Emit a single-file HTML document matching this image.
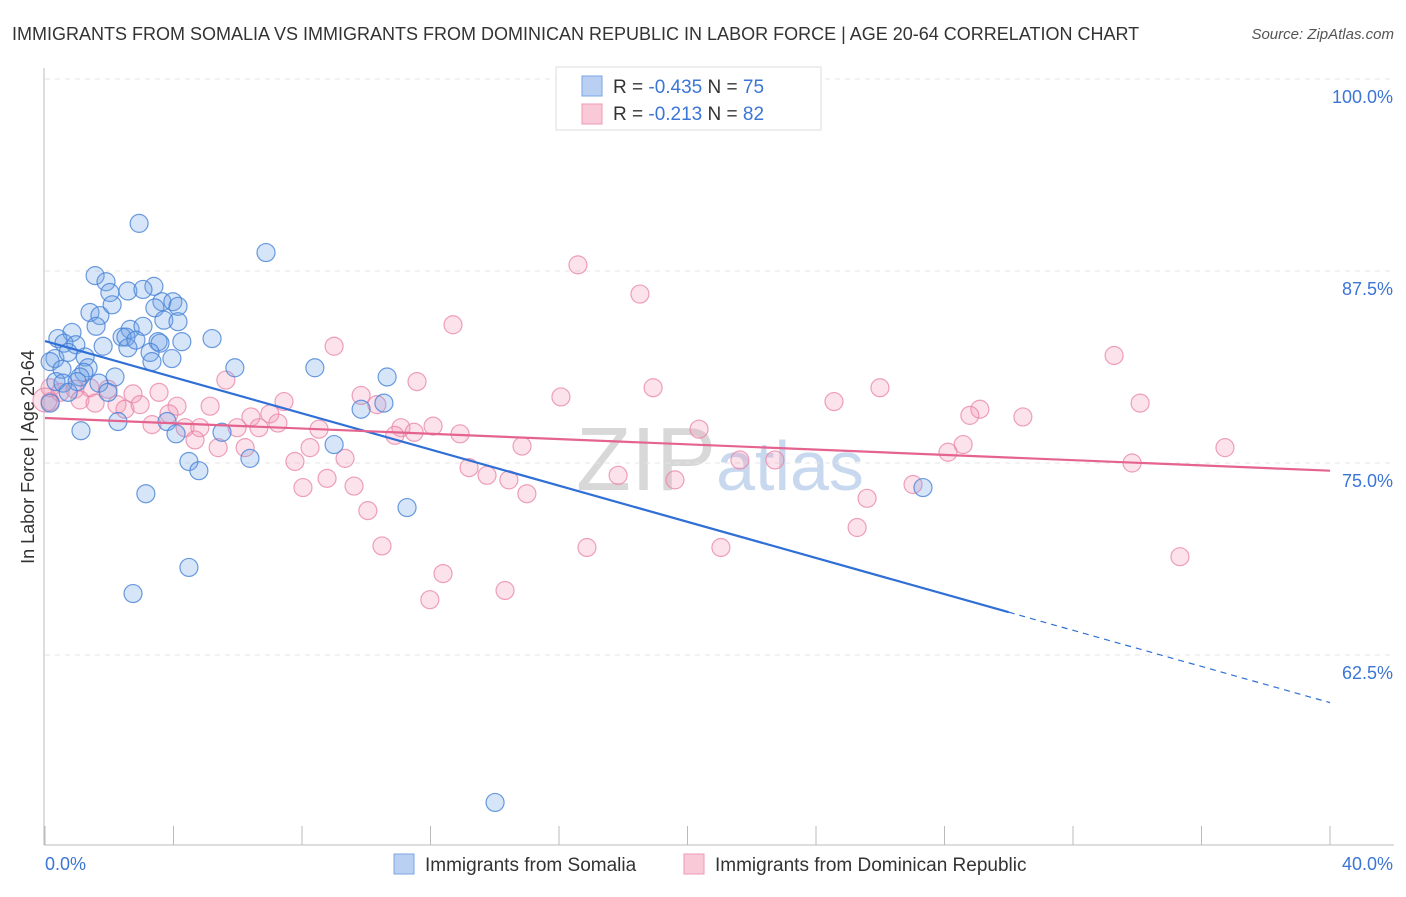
<!DOCTYPE html>
<html><head><meta charset="utf-8"><style>
body{margin:0;background:#fff;font-family:"Liberation Sans",sans-serif}
svg text{font-family:"Liberation Sans",sans-serif}
</style></head><body>
<svg id="chart" width="1406" height="892">
<text x="12" y="40" font-size="18" fill="#333">IMMIGRANTS FROM SOMALIA VS IMMIGRANTS FROM DOMINICAN REPUBLIC IN LABOR FORCE | AGE 20-64 CORRELATION CHART</text>
<text x="1394" y="39" font-size="15" fill="#555" font-style="italic" text-anchor="end">Source: ZipAtlas.com</text>
<text x="34" y="457" font-size="18" fill="#333" text-anchor="middle" transform="rotate(-90 34 457)">In Labor Force | Age 20-64</text>
<text x="720" y="490" font-size="90" fill="#ddd" text-anchor="middle" font-family="Liberation Serif"><tspan fill="#d8d8d8">ZIP</tspan><tspan fill="#c8d8ee" font-family="Liberation Sans" font-size="70">atlas</tspan></text>
<g id="grid"></g><g id="axes"></g><g id="pts"></g><g id="lines"></g>
<g>
<rect x="556" y="67" width="265" height="63" fill="#fff" stroke="#ddd"/>
<rect x="582" y="76" width="20" height="20" fill="#b9d0f2" stroke="#7aa6e6"/>
<rect x="582" y="104" width="20" height="20" fill="#f9c9d8" stroke="#ee9ab6"/>
<text x="613" y="93" font-size="19" fill="#333">R = <tspan fill="#3b75d6">-0.435</tspan>   N = <tspan fill="#3b75d6">75</tspan></text>
<text x="613" y="120" font-size="19" fill="#333">R =  <tspan fill="#3b75d6">-0.213</tspan>   N = <tspan fill="#3b75d6">82</tspan></text>
</g>
<g>
<rect x="394" y="854" width="20" height="20" fill="#b9d0f2" stroke="#7aa6e6"/>
<text x="425" y="871" font-size="19" fill="#333">Immigrants from Somalia</text>
<rect x="684" y="854" width="20" height="20" fill="#f9c9d8" stroke="#ee9ab6"/>
<text x="715" y="871" font-size="19" fill="#333">Immigrants from Dominican Republic</text>
</g>
</svg>
<script>
const xTicks=[0,4,8,12,16,20,24,28,32,36,40];
const yTicks=[100,87.5,75,62.5];
const yTickLabels=["100.0%","87.5%","75.0%","62.5%"];
const somaliaX=[2.93,6.88,1.56,1.90,2.02,2.58,3.39,3.05,1.40,1.71,2.09,3.64,3.98,4.14,3.42,3.70,4.14,1.59,0.84,0.40,2.65,3.05,2.40,2.52,0.59,0.96,1.81,2.58,2.83,3.52,3.58,4.26,5.20,3.27,3.33,3.95,0.31,0.72,1.25,0.16,0.53,1.34,1.21,1.09,2.18,0.34,0.56,1.00,1.68,1.96,0.72,5.91,8.40,10.65,10.55,9.84,3.80,2.27,1.12,4.08,5.51,9.00,6.38,4.48,4.79,3.14,11.27,27.33,4.48,2.74,14.01,0.16];
const somaliaY=[90.6,88.7,87.2,86.8,86.1,86.2,86.5,86.3,84.8,84.6,85.3,85.5,85.5,85.2,85.1,84.3,84.2,83.9,83.5,83.1,83.7,83.9,83.2,83.2,82.8,82.7,82.6,82.5,83.0,82.9,82.8,82.9,83.1,82.2,81.6,81.8,81.8,82.2,81.9,81.6,81.1,81.2,80.9,80.6,80.6,80.3,80.2,80.3,80.2,79.6,79.6,81.2,81.2,80.6,78.9,78.5,77.7,77.7,77.1,76.9,77.0,76.2,75.3,75.1,74.5,73.0,72.1,73.4,68.2,66.5,52.9,78.9];
const domX=[16.59,18.52,12.70,9.00,33.28,5.63,11.58,18.93,25.99,0.16,0.47,0.93,1.40,1.96,2.74,3.55,9.84,16.06,24.56,34.09,1.09,1.56,2.24,2.49,2.96,4.11,5.14,7.44,10.33,29.10,28.79,30.44,3.86,6.41,7.00,7.25,11.08,12.08,8.53,3.33,4.36,4.82,5.98,6.66,11.49,10.89,12.92,20.36,4.67,5.39,6.23,8.25,14.85,28.58,28.11,36.73,7.78,9.34,21.63,22.72,13.20,13.76,14.44,19.61,17.84,33.84,8.78,8.03,9.62,15.00,25.59,27.02,10.05,25.28,10.49,16.87,21.04,35.33,12.39,14.32,11.98,0.16,0.0];
const domY=[87.9,86.0,84.0,82.6,82.0,80.4,80.3,79.9,79.9,79.9,79.6,79.8,79.9,79.8,79.5,79.6,79.4,79.3,79.0,78.9,79.1,78.9,78.8,78.5,78.8,78.7,78.7,79.0,78.8,78.5,78.1,78.0,78.2,78.0,78.2,77.6,77.3,77.4,77.2,77.5,77.3,77.3,77.3,77.3,77.0,76.8,76.9,77.2,76.5,76.0,76.0,76.0,76.1,76.2,75.7,76.0,75.1,75.3,75.2,75.2,74.7,74.2,73.9,73.9,74.2,75.0,74.0,73.4,73.5,73.0,72.7,73.6,71.9,70.8,69.6,69.5,69.5,68.9,67.8,66.7,66.1,79.0,79.1];
const somaliaTrend=[82.94,59.4]; // value at x=0 and x=40
const somaliaSolidEnd=30;
const domTrend=[77.93,74.5];
const NS="http://www.w3.org/2000/svg";
const X=v=>45+v*32.125, Y=v=>79+(100-v)*15.36;
function mk(t,a,p){const e=document.createElementNS(NS,t);for(const k in a)e.setAttribute(k,a[k]);p.appendChild(e);return e;}
const grid=document.getElementById('grid'),axes=document.getElementById('axes');
yTicks.forEach((t,i)=>{
 const l=mk('line',{x1:45,x2:1394,y1:Y(t),y2:Y(t),stroke:'#e4e4e4','stroke-dasharray':'5,5'},grid);
 
 
 const tx=mk('text',{x:1393,y:Y(t)+24,'font-size':18,fill:'#3b75d6','text-anchor':'end'},grid);
 tx.textContent=yTickLabels[i];
 
 
});
const ax=mk('line',{x1:44,x2:44,y1:68,y2:845,stroke:'#bbb'},axes);


const bx=mk('line',{x1:44,x2:1394,y1:845,y2:845,stroke:'#bbb'},axes);


xTicks.forEach(t=>{const l=mk('line',{x1:X(t),x2:X(t),y1:826,y2:845,stroke:'#bbb'},axes);
 
 });
[[0,'0.0%','start',45],[40,'40.0%','end',1393]].forEach(d=>{const t=mk('text',{x:d[3],y:870,'font-size':18,fill:'#3b75d6','text-anchor':d[2]},axes);t.textContent=d[1];
 
 });
const pts=document.getElementById('pts');
domX.forEach((x,i)=>{const c=mk('circle',{cx:X(x),cy:Y(domY[i]),r:i==domX.length-1?12:9,fill:'rgba(244,150,180,0.28)',stroke:'rgba(232,130,165,0.75)','stroke-width':1.2},pts);
 
 });
somaliaX.forEach((x,i)=>{const c=mk('circle',{cx:X(x),cy:Y(somaliaY[i]),r:9,fill:'rgba(110,160,230,0.28)',stroke:'rgba(70,130,215,0.8)','stroke-width':1.2},pts);
 
 });
const L=document.getElementById('lines');
const sy=x=>somaliaTrend[0]+(somaliaTrend[1]-somaliaTrend[0])*x/40;
let l1=mk('line',{x1:X(0),y1:Y(sy(0)),x2:X(somaliaSolidEnd),y2:Y(sy(somaliaSolidEnd)),stroke:'#2f6fd6','stroke-width':2.2},L);


let l2=mk('line',{x1:X(somaliaSolidEnd),y1:Y(sy(somaliaSolidEnd)),x2:X(40),y2:Y(sy(40)),stroke:'#2f6fd6','stroke-width':1.2,'stroke-dasharray':'6,5'},L);


let l3=mk('line',{x1:X(0),y1:Y(domTrend[0]),x2:X(40),y2:Y(domTrend[1]),stroke:'#e4638f','stroke-width':2.2},L);


</script>
</body></html>
